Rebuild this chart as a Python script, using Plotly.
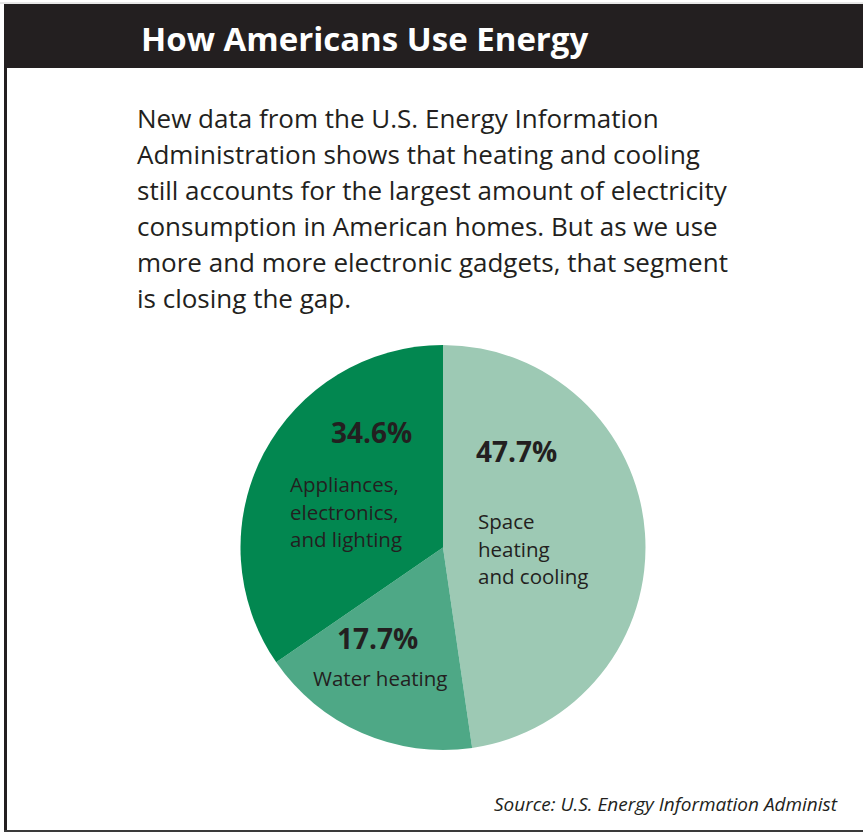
import plotly.graph_objects as go

W, H = 863, 833

# ---- data ----
categories = ["Space heating and cooling", "Water heating", "Appliances, electronics, and lighting"]
shares = [47.7, 17.7, 34.6]
colors = ["#9dc9b4", "#4ea886", "#028750"]
label_lines = [["Space", "heating", "and cooling"], ["Water heating"], ["Appliances,", "electronics,", "and lighting"]]

title_text = "How Americans Use Energy"
intro_lines = [
    "New data from the U.S. Energy Information",
    "Administration shows that heating and cooling",
    "still accounts for the largest amount of electricity",
    "consumption in American homes. But as we use",
    "more and more electronic gadgets, that segment",
    "is closing the gap.",
]
source_text = "Source: U.S. Energy Information Administ"

FONT = "Open Sans"
DARK = "#231f20"


def fx(x):
    return x / W


def fy(y):
    return 1 - y / H


fig = go.Figure()

# pie: center (443, 547.5), radius ~202.5
fig.add_trace(go.Pie(
    labels=categories,
    values=shares,
    marker=dict(colors=colors, line=dict(width=0)),
    sort=False,
    direction="clockwise",
    rotation=0,
    textinfo="none",
    hoverinfo="label+percent",
    showlegend=False,
    domain=dict(x=[fx(240.5), fx(645.5)], y=[fy(750), fy(345)]),
))

shapes = [
    # top light line
    dict(type="line", xref="paper", yref="paper", x0=0, x1=1, y0=fy(3), y1=fy(3),
         line=dict(color="#d0d0d0", width=1)),
    # black title bar
    dict(type="rect", xref="paper", yref="paper", x0=fx(4), x1=1, y0=fy(68), y1=fy(4),
         fillcolor=DARK, line=dict(width=0), layer="below"),
    # left border
    dict(type="line", xref="paper", yref="paper", x0=fx(5.5), x1=fx(5.5), y0=fy(832), y1=fy(4),
         line=dict(color=DARK, width=3)),
    # bottom border
    dict(type="line", xref="paper", yref="paper", x0=fx(4), x1=1, y0=fy(831), y1=fy(831),
         line=dict(color="#3a3a3a", width=2)),
]

annotations = []
# title
annotations.append(dict(text="<b>" + title_text + "</b>", x=fx(139), y=fy(38), xref="paper", yref="paper",
                        xanchor="left", yanchor="middle", showarrow=False,
                        font=dict(family=FONT, size=33, color="white")))
# intro paragraph
intro_y = [118, 154, 190, 226, 262, 298]
for line, yy in zip(intro_lines, intro_y):
    annotations.append(dict(text=line, x=fx(135), y=fy(yy), xref="paper", yref="paper",
                            xanchor="left", yanchor="middle", showarrow=False,
                            font=dict(family=FONT, size=26, color=DARK)))

# percentage labels
pct_pos = [(516, 451), (377, 638), (371, 432)]
for v, (px_, py_) in zip(shares, pct_pos):
    annotations.append(dict(text="<b>%.1f%%</b>" % v, x=fx(px_), y=fy(py_), xref="paper", yref="paper",
                            xanchor="center", yanchor="middle", showarrow=False,
                            font=dict(family=FONT, size=28, color=DARK)))

# category labels
cat_pos = [(476, 521, "left"), (380, 678, "center"), (288, 484, "left")]
for lines, (px_, py_, anc) in zip(label_lines, cat_pos):
    for i, ln in enumerate(lines):
        annotations.append(dict(text=ln, x=fx(px_), y=fy(py_ + 27.5 * i), xref="paper", yref="paper",
                                xanchor=anc, yanchor="middle", showarrow=False,
                                font=dict(family=FONT, size=20.5, color=DARK)))

# source
annotations.append(dict(text="<i>" + source_text + "</i>", x=fx(840), y=fy(804), xref="paper", yref="paper",
                        xanchor="right", yanchor="middle", showarrow=False,
                        font=dict(family=FONT, size=19, color=DARK)))

fig.update_layout(
    width=W, height=H,
    margin=dict(l=0, r=0, t=0, b=0),
    paper_bgcolor="white",
    plot_bgcolor="white",
    shapes=shapes,
    annotations=annotations,
)

fig.write_html("out.html")
